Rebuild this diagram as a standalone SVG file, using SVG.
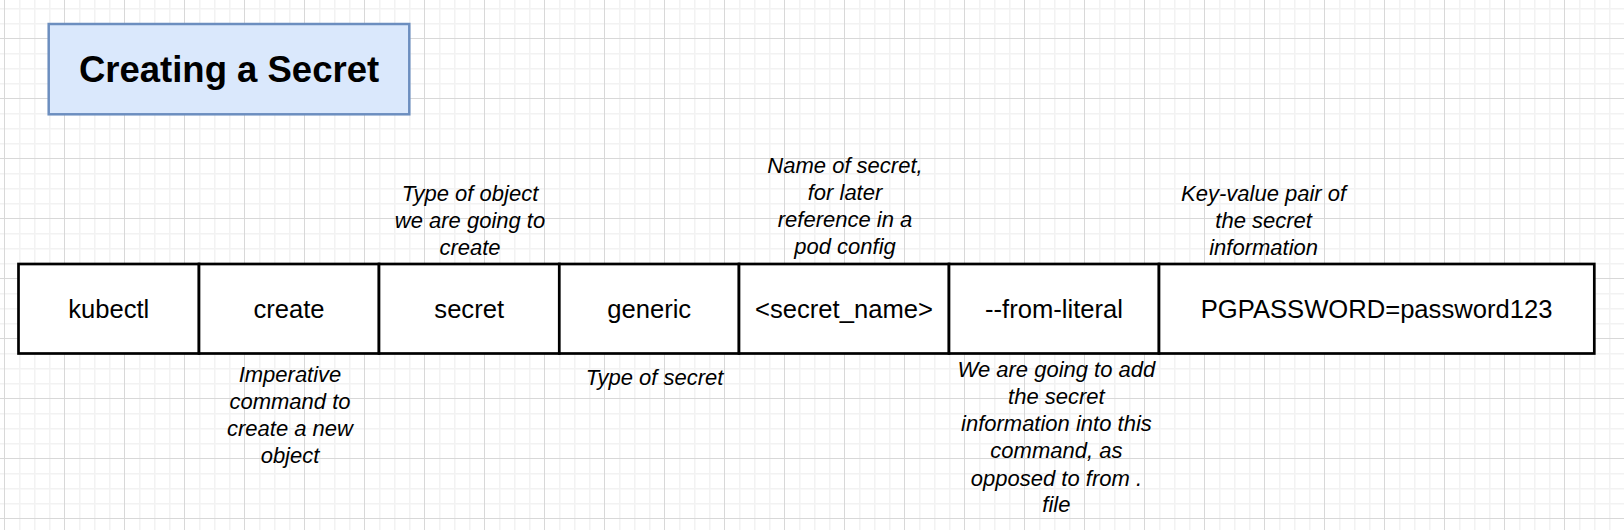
<svg xmlns="http://www.w3.org/2000/svg" width="1624" height="530" viewBox="0 0 1624 530">
  <style>
    .cell { fill: #ffffff; stroke: #000000; stroke-width: 2.7; }
    .cmd { font-family: "Liberation Sans", Arial, Helvetica, sans-serif; font-size: 25.6px; fill: #000000; text-anchor: middle; }
    .note { font-family: "Liberation Sans", Arial, Helvetica, sans-serif; font-size: 22px; font-style: italic; fill: #000000; text-anchor: middle; }
    .title-box { fill: #dae8fc; stroke: #6c8ebf; stroke-width: 2.5; }
    .title { font-family: "Liberation Sans", Arial, Helvetica, sans-serif; font-size: 36.5px; font-weight: bold; fill: #000000; text-anchor: middle; }
  </style>
  <defs>
    <pattern id="grid" patternUnits="userSpaceOnUse" x="4" y="38" width="60" height="60">
      <rect x="15" y="0" width="1.5" height="60" fill="#f2f2f2"/>
      <rect x="30" y="0" width="1.5" height="60" fill="#f2f2f2"/>
      <rect x="45" y="0" width="1.5" height="60" fill="#f2f2f2"/>
      <rect x="0" y="15" width="60" height="1.5" fill="#f2f2f2"/>
      <rect x="0" y="30" width="60" height="1.5" fill="#f2f2f2"/>
      <rect x="0" y="45" width="60" height="1.5" fill="#f2f2f2"/>
      <rect x="0" y="0" width="1" height="60" fill="#d8d8d8"/>
      <rect x="0" y="0" width="60" height="1" fill="#d8d8d8"/>
    </pattern>
  </defs>

  <rect x="0" y="0" width="1624" height="530" fill="#ffffff"/>
  <rect x="0" y="0" width="1624" height="530" fill="url(#grid)"/>

  <g id="title-node">
    <rect class="title-box" x="48.7" y="24" width="360.6" height="90.3"/>
    <text class="title" x="229" y="81.5">Creating a Secret</text>
  </g>

  <g id="cell-kubectl">
    <rect class="cell" x="18.5" y="264" width="180.5" height="89.5"/>
    <text class="cmd" x="108.75" y="317.7">kubectl</text>
  </g>
  <g id="cell-create">
    <rect class="cell" x="199" y="264" width="180" height="89.5"/>
    <text class="cmd" x="289" y="317.7">create</text>
  </g>
  <g id="cell-secret">
    <rect class="cell" x="379" y="264" width="180.3" height="89.5"/>
    <text class="cmd" x="469.2" y="317.7">secret</text>
  </g>
  <g id="cell-generic">
    <rect class="cell" x="559.3" y="264" width="179.7" height="89.5"/>
    <text class="cmd" x="649.2" y="317.7">generic</text>
  </g>
  <g id="cell-secret-name">
    <rect class="cell" x="739" y="264" width="210" height="89.5"/>
    <text class="cmd" x="844" y="317.7">&lt;secret_name&gt;</text>
  </g>
  <g id="cell-from-literal">
    <rect class="cell" x="949" y="264" width="210" height="89.5"/>
    <text class="cmd" x="1054" y="317.7">--from-literal</text>
  </g>
  <g id="cell-pgpassword">
    <rect class="cell" x="1159" y="264" width="435.3" height="89.5"/>
    <text class="cmd" x="1376.6" y="317.7">PGPASSWORD=password123</text>
  </g>

  <g id="note-type-of-object">
    <text class="note" x="470" y="200.6">Type of object</text>
    <text class="note" x="470" y="227.6">we are going to</text>
    <text class="note" x="470" y="254.5">create</text>
  </g>
  <g id="note-name-of-secret">
    <text class="note" x="845" y="172.7">Name of secret,</text>
    <text class="note" x="845" y="199.6">for later</text>
    <text class="note" x="845" y="226.5">reference in a</text>
    <text class="note" x="845" y="253.5">pod config</text>
  </g>
  <g id="note-key-value">
    <text class="note" x="1263.6" y="200.6">Key-value pair of</text>
    <text class="note" x="1263.6" y="227.6">the secret</text>
    <text class="note" x="1263.6" y="254.5">information</text>
  </g>
  <g id="note-imperative">
    <text class="note" x="290" y="382">Imperative</text>
    <text class="note" x="290" y="409">command to</text>
    <text class="note" x="290" y="436">create a new</text>
    <text class="note" x="290" y="463">object</text>
  </g>
  <g id="note-type-of-secret">
    <text class="note" x="654.6" y="385">Type of secret</text>
  </g>
  <g id="note-from-literal">
    <text class="note" x="1056.4" y="376.7">We are going to add</text>
    <text class="note" x="1056.4" y="403.6">the secret</text>
    <text class="note" x="1056.4" y="430.6">information into this</text>
    <text class="note" x="1056.4" y="457.5">command, as</text>
    <text class="note" x="1056.4" y="485.5">opposed to from .</text>
    <text class="note" x="1056.4" y="512.4">file</text>
  </g>

  <g id="connectors"></g>
</svg>
